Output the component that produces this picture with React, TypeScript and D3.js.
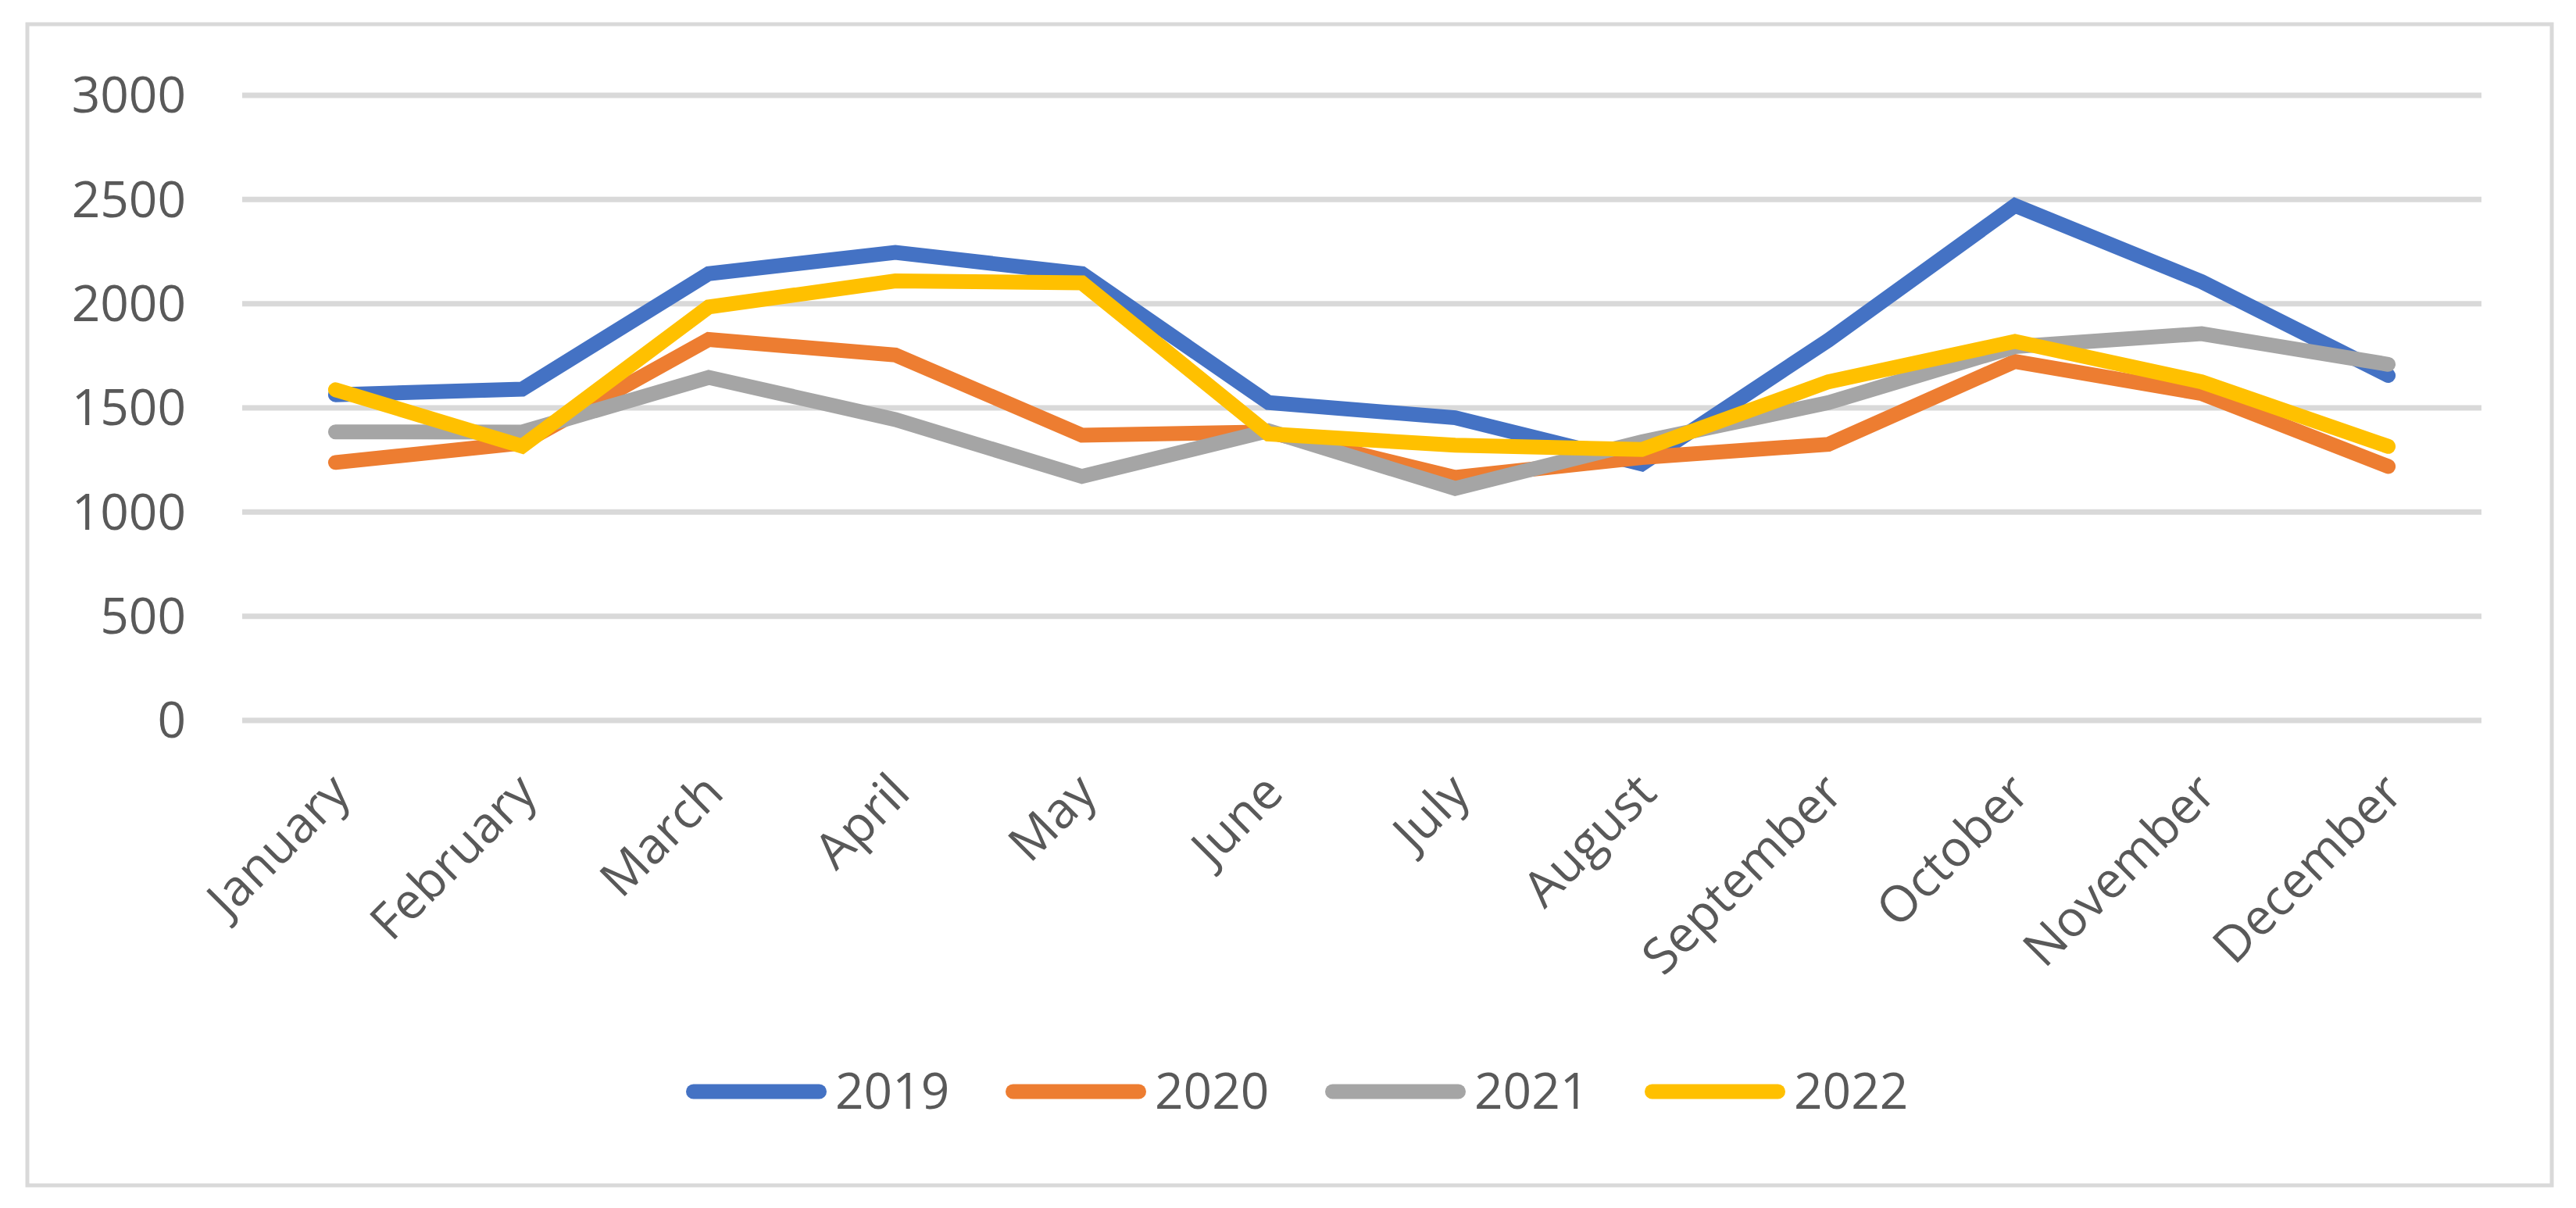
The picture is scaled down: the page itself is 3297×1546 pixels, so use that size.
import React, { useEffect } from "react";
import * as d3 from "d3";

const months = [
  "January", "February", "March", "April", "May", "June",
  "July", "August", "September", "October", "November", "December",
];

const yTicks = [0, 500, 1000, 1500, 2000, 2500, 3000];

const seriesNames = ["2019", "2020", "2021", "2022"];
const seriesColors = ["#4472C4", "#ED7D31", "#A5A5A5", "#FFC000"];

const values2019 = [1563, 1590, 2144, 2246, 2144, 1525, 1453, 1231, 1825, 2471, 2106, 1656];
const values2020 = [1238, 1331, 1828, 1754, 1369, 1385, 1166, 1262, 1325, 1723, 1569, 1219];
const values2021 = [1385, 1384, 1646, 1444, 1171, 1390, 1113, 1337, 1525, 1794, 1856, 1709];
const values2022 = [1587, 1316, 1984, 2109, 2100, 1375, 1321, 1300, 1625, 1819, 1625, 1315];

const W = 3297;
const H = 1546;
const FONT = "'Open Sans', 'Noto Sans', sans-serif";
const TEXT = "#595959";
const GRID = "#D9D9D9";

export default function App() {
  useEffect(() => {
    document.body.style.margin = "0";
  }, []);

  const allSeries = [values2019, values2020, values2021, values2022];

  const x = d3.scaleBand<string>().domain(months).range([310, 3176]);
  const y = d3.scaleLinear().domain([0, 3000]).range([922, 122]);
  const cx = (m: string) => (x(m) ?? 0) + x.bandwidth() / 2;

  const line = d3
    .line<number>()
    .x((_, i) => cx(months[i]))
    .y((d) => y(d));

  // legend layout
  const legendY = 1397;
  const legendStart = 878;
  const legendPitch = 409;
  const swatchLen = 180;
  const sw = 19;

  return (
    <svg width={W} height={H} style={{ display: "block", background: "#fff" }}>
      <rect x={0} y={0} width={W} height={H} fill="#fff" />
      <rect
        x={35}
        y={31}
        width={3266 - 35}
        height={1517 - 31}
        fill="#fff"
        stroke={GRID}
        strokeWidth={5}
      />

      {yTicks.map((t) => (
        <g key={t}>
          <line x1={310} x2={3176} y1={y(t)} y2={y(t)} stroke={GRID} strokeWidth={7} />
          <text
            x={238}
            y={y(t)}
            dy="0.35em"
            textAnchor="end"
            fontFamily={FONT}
            fontSize={64}
            fill={TEXT}
          >
            {t}
          </text>
        </g>
      ))}

      {months.map((m) => {
        const ax = cx(m) + 6;
        const ay = 1002;
        return (
          <text
            key={m}
            transform={`translate(${ax},${ay}) rotate(-45)`}
            dy="0.35em"
            textAnchor="end"
            fontFamily={FONT}
            fontSize={64}
            fill={TEXT}
          >
            {m}
          </text>
        );
      })}

      {allSeries.map((vals, i) => (
        <path
          key={seriesNames[i]}
          d={line(vals) ?? ""}
          fill="none"
          stroke={seriesColors[i]}
          strokeWidth={sw}
          strokeLinecap="round"
          strokeLinejoin="miter"
        />
      ))}

      {seriesNames.map((name, i) => {
        const x0 = legendStart + i * legendPitch;
        return (
          <g key={name}>
            <line
              x1={x0 + sw / 2}
              x2={x0 + swatchLen - sw / 2}
              y1={legendY}
              y2={legendY}
              stroke={seriesColors[i]}
              strokeWidth={sw}
              strokeLinecap="round"
            />
            <text
              x={x0 + swatchLen + 11}
              y={legendY}
              dy="0.35em"
              fontFamily={FONT}
              fontSize={64}
              fill={TEXT}
            >
              {name}
            </text>
          </g>
        );
      })}
    </svg>
  );
}
